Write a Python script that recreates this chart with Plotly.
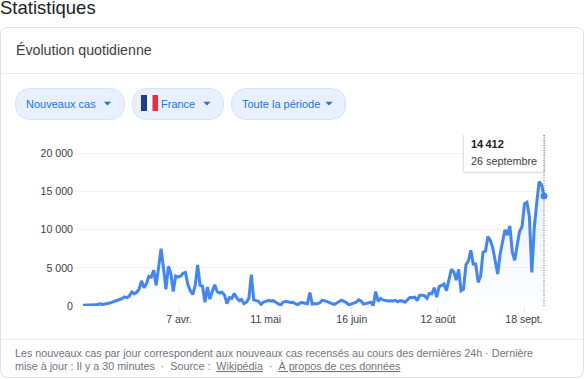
import plotly.graph_objects as go

W, H = 584, 379

new_cases = [
    100, 100, 100, 80, 120, 150, 200, 300, 200, 250,
    320, 400, 500, 650, 800, 850, 950, 1200, 1100, 1300,
    1850, 1600, 1800, 2200, 3300, 2400, 2900, 3900, 3800, 4700,
    2700, 4800, 7500, 5000, 2200, 5200, 4300, 1900, 3950, 3800,
    3900, 4300, 4400, 2800, 2000, 1500, 2700, 5400, 2700, 2600,
    500, 2500, 900, 1900, 2800, 1900, 1700, 1800, 1450, 300,
    1100, 1000, 1650, 1100, 700, 850, 300, 500, 1000, 4100,
    800, 700, 600, 200, 500, 600, 750, 650, 700, 500,
    300, 100, 500, 600, 550, 450, 500, 300, 150, 400,
    450, 350, 300, 1750, 250, 300, 300, 400, 750, 700,
    600, 450, 300, 200, 400, 550, 750, 600, 450, 150,
    300, 450, 500, 800, 650, 250, 350, 450, 500, 50,
    1900, 600, 1000, 800, 700, 650, 700, 650, 750, 550,
    700, 650, 500, 800, 1100, 1100, 1150, 700, 1400, 1400,
    1350, 1000, 1650, 1600, 2400, 1150, 2550, 2700, 2900, 2000,
    3600, 4800, 4500, 3400, 4800, 2000, 2200, 5400, 5900, 7300,
    5500, 5500, 3100, 3900, 7050, 7200, 9100, 8600, 7600, 6000,
    4200, 6800, 8250, 10000, 9300, 10500, 7050, 6000, 8000, 9800,
    10400, 13400, 13600, 11750, 4400, 10200, 13500, 16300, 15900, 14412,
]
day_index = list(range(len(new_cases)))
x_tick_positions = [39.4, 74.9, 110.2, 145.5, 180.8]
x_tick_labels = ["7 avr.", "11 mai", "16 juin", "12 août", "18 sept."]
y_tick_values = [0, 5000, 10000, 15000, 20000]
y_tick_labels = ["0", "5 000", "10 000", "15 000", "20 000"]
filter_labels = ["Nouveaux cas", "France", "Toute la période"]

FONT = "Liberation Sans, Arial, sans-serif"
BLUE = "#4285f4"
px = lambda x: x / W
py = lambda y: 1 - y / H

step = (544 - 83) / (len(new_cases) - 1)
left, right, top, bottom = 74, 545, 134, 306
yscale = (306 - 153.5) / 20000

fig = go.Figure()
fig.add_trace(go.Scatter(
    x=day_index, y=new_cases, mode="lines",
    line=dict(color=BLUE, width=3, shape="linear"),
    fill="tozeroy",
    fillgradient=dict(type="vertical",
                      colorscale=[[0, "rgba(66,133,244,0.01)"], [1, "rgba(66,133,244,0.11)"]]),
    hoverinfo="skip", cliponaxis=False, showlegend=False,
))
fig.add_trace(go.Scatter(
    x=day_index[-1:], y=new_cases[-1:], mode="markers",
    marker=dict(color=BLUE, size=7), hoverinfo="skip", cliponaxis=False, showlegend=False,
))

shapes = []
def rect(x0, y0, x1, y1, fill, line="rgba(0,0,0,0)", width=0, layer="above"):
    shapes.append(dict(type="rect", xref="paper", yref="paper", x0=px(x0), x1=px(x1),
                       y0=py(y1), y1=py(y0), fillcolor=fill,
                       line=dict(color=line, width=width), layer=layer))

def rrect(x0, y0, x1, y1, r, fill, line, width=1, layer="below"):
    d = (f"M {px(x0+r)} {py(y0)} L {px(x1-r)} {py(y0)} "
         f"Q {px(x1)} {py(y0)} {px(x1)} {py(y0+r)} L {px(x1)} {py(y1-r)} "
         f"Q {px(x1)} {py(y1)} {px(x1-r)} {py(y1)} L {px(x0+r)} {py(y1)} "
         f"Q {px(x0)} {py(y1)} {px(x0)} {py(y1-r)} L {px(x0)} {py(y0+r)} "
         f"Q {px(x0)} {py(y0)} {px(x0+r)} {py(y0)} Z")
    shapes.append(dict(type="path", xref="paper", yref="paper", path=d, fillcolor=fill,
                       line=dict(color=line, width=width), layer=layer))

def caret(cx, cy):
    d = (f"M {px(cx-3.6)} {py(cy-1.8)} L {px(cx+3.6)} {py(cy-1.8)} L {px(cx)} {py(cy+2)} Z")
    shapes.append(dict(type="path", xref="paper", yref="paper", path=d, fillcolor="#1a73e8",
                       line=dict(width=0), layer="above"))

def hline(y, x0=0.5, x1=583.5):
    shapes.append(dict(type="line", xref="paper", yref="paper", x0=px(x0), x1=px(x1),
                       y0=py(y), y1=py(y), line=dict(color="#e8eaed", width=1), layer="below"))

# card
rrect(0.5, 27.5, 583.5, 377.5, 8, "#ffffff", "#dfe1e5")
hline(73.5)
hline(339.5)

# filter pills
rrect(15.5, 88.5, 124.5, 119.5, 15.5, "#e8f0fe", "#d2e3fc")
rrect(132.5, 88.5, 223.5, 119.5, 15.5, "#e8f0fe", "#d2e3fc")
rrect(231.5, 88.5, 345.5, 119.5, 15.5, "#e8f0fe", "#d2e3fc")
caret(107.5, 103.5)
caret(207, 103.5)
caret(329, 103.5)
# flag
rect(141, 95, 147, 111, "#1f3a93")
rect(147, 95, 152.5, 111, "#f8f9fa")
rect(152.5, 95, 158, 111, "#ef2b3d")

# tooltip with soft shadow
rrect(462, 134, 546, 174, 2, "rgba(60,64,67,0.06)", "rgba(0,0,0,0)", 0, layer="above")
rrect(463, 134, 545, 173, 2, "rgba(60,64,67,0.10)", "rgba(0,0,0,0)", 0, layer="above")
rect(464, 133, 544, 171.5, "#ffffff")

# crosshair
shapes.append(dict(type="line", xref="x", yref="paper",
                   x0=day_index[-1], x1=day_index[-1], y0=py(306), y1=py(134),
                   line=dict(color="#5f6368", width=1, dash="1px,1.5px"), layer="above"))

annotations = []
def text(x, y, s, size, color, anchor="left", weight=None):
    annotations.append(dict(xref="paper", yref="paper", x=px(x), y=py(y), text=s,
                            showarrow=False, xanchor=anchor, yanchor="middle",
                            font=dict(family=FONT, size=size, color=color, weight=weight),
                            align="left", borderpad=0, borderwidth=0))

text(0, 7, "Statistiques", 18.5, "#202124")
text(16, 50, "Évolution quotidienne", 14.2, "#3c4043")
text(26, 104, filter_labels[0], 11, "#1a73e8")
text(161, 104, filter_labels[1], 11, "#1a73e8")
text(242, 104, filter_labels[2], 11, "#1a73e8")
text(470.5, 144, "14\u2009412", 11, "#202124", weight="bold")
text(470.5, 161, "26 septembre", 10.8, "#3c4043")
text(14.5, 353, "Les nouveaux cas par jour correspondent aux nouveaux cas recensés au cours des dernières 24h · Dernière", 10.75, "#70757a")
text(14.5, 366, "mise à jour : Il y a 30 minutes  ·  Source :  <u>Wikipédia</u>  ·  <u>À propos de ces données</u>", 10.75, "#70757a")

fig.update_layout(
    width=W, height=H, margin=dict(l=0, r=0, t=0, b=0, pad=0),
    paper_bgcolor="#ffffff", plot_bgcolor="rgba(0,0,0,0)",
    shapes=shapes, annotations=annotations, showlegend=False,
    xaxis=dict(domain=[px(left), px(right)], automargin=False,
               range=[-(83 - left) / step, day_index[-1] + (right - 544) / step],
               tickmode="array", tickvals=x_tick_positions, ticktext=x_tick_labels,
               ticks="outside", ticklen=6, tickwidth=1, tickcolor="#e8eaed",
               ticklabelstandoff=-3,
               showgrid=False, zeroline=False, showline=False,
               tickfont=dict(family=FONT, size=10.5, color="#3c4043")),
    yaxis=dict(domain=[py(bottom), py(top)], automargin=False,
               range=[0, (bottom - top) / yscale],
               tickmode="array", tickvals=y_tick_values, ticktext=y_tick_labels,
               showgrid=True, gridcolor="#f1f3f4", gridwidth=1, zeroline=False,
               showline=False, ticks="", ticklabelstandoff=0,
               tickfont=dict(family=FONT, size=10.6, color="#3c4043")),
)
fig.write_html("out.html", config=dict(displayModeBar=False),
               post_script="document.body.style.margin='0';")
